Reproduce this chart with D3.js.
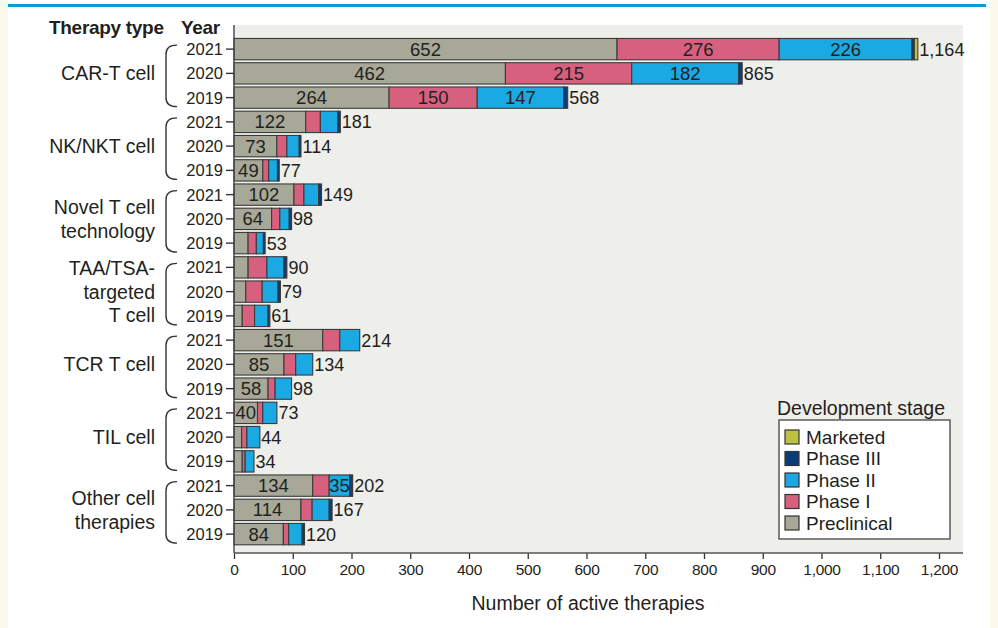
<!DOCTYPE html>
<html>
<head>
<meta charset="utf-8">
<script src="https://cdn.jsdelivr.net/npm/d3@7/dist/d3.min.js"></script>
<style>
  html, body { margin: 0; padding: 0; background: #fdf8ec; }
  svg { display: block; }
  text { font-family: "Liberation Sans", Arial, sans-serif; fill: #231f20; }
</style>
</head>
<body>
<svg id="chart" width="998" height="628"></svg>
<script>
// Therapy types (line breaks mark wrapped labels) and years within each type
const groups = ["CAR-T cell", "NK/NKT cell", "Novel T cell\ntechnology", "TAA/TSA-\ntargeted\nT cell", "TCR T cell", "TIL cell", "Other cell\ntherapies"];
const years = ["2021", "2020", "2019"];

// Active therapies per stage, ordered group by group, 2021 → 2019
const preclinical = [652, 462, 264, 122, 73, 49, 102, 64, 24, 24, 20, 14, 151, 85, 58, 40, 13, 14, 134, 114, 84];
const phaseI      = [276, 215, 150, 25, 17, 10, 17, 14, 14, 32, 28, 21, 29, 20, 12, 9, 9, 5, 28, 19, 9];
const phaseII     = [226, 182, 147, 30, 21, 15, 25, 16, 12, 29, 27, 23, 34, 29, 28, 24, 22, 15, 35, 29, 23];
const phaseIII    = [4, 6, 7, 4, 3, 3, 5, 4, 3, 5, 4, 3, 0, 0, 0, 0, 0, 0, 4, 5, 4];
const marketed    = [6, 0, 0, 0, 0, 0, 0, 0, 0, 0, 0, 0, 0, 0, 0, 0, 0, 0, 1, 0, 0];

const stages = ["Preclinical", "Phase I", "Phase II", "Phase III", "Marketed"];
const stageColors = ["#a7a897", "#d8607f", "#1aa9e2", "#0c3c76", "#bec244"];
const xTicks = [0, 100, 200, 300, 400, 500, 600, 700, 800, 900, 1000, 1100, 1200];

const rows = [];
groups.forEach((g, gi) => years.forEach((y, yi) => {
  const i = gi * 3 + yi;
  rows.push({
    key: gi + "-" + y, group: gi, year: y,
    "Preclinical": preclinical[i], "Phase I": phaseI[i], "Phase II": phaseII[i],
    "Phase III": phaseIII[i], "Marketed": marketed[i]
  });
}));
rows.forEach(r => r.total = d3.sum(stages, s => r[s]));

const svg = d3.select("#chart");

// page frame: white panel with a blue rule along the top
svg.append("rect").attr("x", 8).attr("y", 0).attr("width", 982).attr("height", 628).attr("fill", "#ffffff");
svg.append("rect").attr("x", 8).attr("y", 4).attr("width", 978).attr("height", 3).attr("fill", "#0a9ad9");

const plot = { left: 234, right: 963, top: 25, bottom: 553 };

const x = d3.scaleLinear().domain([0, 1200]).range([234, 939]);
const y = d3.scaleBand().domain(rows.map(r => r.key)).range([37, 546.25]).paddingInner(0.12).paddingOuter(0.06);

// plot background
svg.append("rect")
  .attr("x", plot.left).attr("y", plot.top)
  .attr("width", plot.right - plot.left).attr("height", plot.bottom - plot.top)
  .attr("fill", "#eeeeea");

// stacked bars
const series = d3.stack().keys(stages)(rows);
const barG = svg.append("g");
series.forEach((s, si) => {
  barG.append("g")
    .selectAll("rect")
    .data(s.filter(d => d[1] > d[0]))
    .join("rect")
    .attr("x", d => x(d[0]))
    .attr("y", d => y(d.data.key))
    .attr("width", d => x(d[1]) - x(d[0]))
    .attr("height", y.bandwidth())
    .attr("fill", stageColors[si])
    .attr("stroke", "#3b3b3b")
    .attr("stroke-width", 1.1);
});

// values printed inside segments
const labelG = svg.append("g").attr("font-size", 18.5).attr("text-anchor", "middle");
series.forEach((s, si) => {
  const minVal = si === 0 ? 30 : 35;
  labelG.selectAll(null)
    .data(s.filter(d => d[1] - d[0] >= minVal && si < 3))
    .join("text")
    .attr("x", d => (x(d[0]) + x(d[1])) / 2)
    .attr("y", d => y(d.data.key) + y.bandwidth() / 2 + 6.5)
    .text(d => d[1] - d[0]);
});

// totals at bar ends
svg.append("g").attr("font-size", 18)
  .selectAll("text")
  .data(rows)
  .join("text")
  .attr("x", d => x(d.total) + 1.5)
  .attr("y", d => y(d.key) + y.bandwidth() / 2 + 6.5)
  .text(d => d3.format(",")(d.total));

// y axis line with year ticks
svg.append("line")
  .attr("x1", plot.left).attr("x2", plot.left)
  .attr("y1", plot.top).attr("y2", plot.bottom)
  .attr("stroke", "#444").attr("stroke-width", 1.4);
const yearG = svg.append("g");
yearG.selectAll("line").data(rows).join("line")
  .attr("x1", 226).attr("x2", plot.left)
  .attr("y1", d => y(d.key) + y.bandwidth() / 2)
  .attr("y2", d => y(d.key) + y.bandwidth() / 2)
  .attr("stroke", "#333").attr("stroke-width", 1.4);
yearG.selectAll("text").data(rows).join("text")
  .attr("x", 223).attr("text-anchor", "end").attr("font-size", 16.5)
  .attr("y", d => y(d.key) + y.bandwidth() / 2 + 6)
  .text(d => d.year);

// group brackets and labels
const grpG = svg.append("g");
groups.forEach((g, gi) => {
  const c1 = y(gi + "-2021") + y.bandwidth() / 2;
  const c3 = y(gi + "-2019") + y.bandwidth() / 2;
  const top = c1 - 4, bot = c3 + 9, bx = 166, ex = 177;
  grpG.append("path")
    .attr("d", `M${ex},${top} Q${bx},${top} ${bx},${top + 9} L${bx},${bot - 9} Q${bx},${bot} ${ex},${bot}`)
    .attr("fill", "none").attr("stroke", "#333").attr("stroke-width", 1.4);
  const lines = g.split("\n");
  const mid = (c1 + c3) / 2;
  const lh = 23.5;
  lines.forEach((t, li) => {
    grpG.append("text")
      .attr("x", 155).attr("text-anchor", "end").attr("font-size", 19.5)
      .attr("y", mid + (li - (lines.length - 1) / 2) * lh + 7)
      .text(t);
  });
});

// column headings
svg.append("text").attr("x", 49).attr("y", 34).attr("font-size", 19).attr("font-weight", 700).attr("letter-spacing", -0.3).text("Therapy type");
svg.append("text").attr("x", 181).attr("y", 34).attr("font-size", 19).attr("font-weight", 700).attr("letter-spacing", -0.3).text("Year");

// x axis
const xAxis = d3.axisBottom(x).tickValues(xTicks).tickSize(6).tickSizeOuter(0).tickFormat(d3.format(","));
const xg = svg.append("g").attr("transform", `translate(0,${plot.bottom})`).call(xAxis);
xg.select(".domain").remove();
xg.append("line").attr("x1", plot.left).attr("x2", plot.right).attr("y1", 0).attr("y2", 0)
  .attr("stroke", "#555").attr("stroke-width", 1.5);
xg.selectAll(".tick line").attr("stroke", "#333").attr("stroke-width", 1.3);
xg.selectAll(".tick text").attr("font-size", 15.5).attr("font-family", "'Liberation Sans', Arial, sans-serif")
  .attr("fill", "#231f20").attr("letter-spacing", -0.3).attr("dy", "0.85em");

svg.append("text").attr("x", 588).attr("y", 610).attr("text-anchor", "middle").attr("font-size", 19.5)
  .text("Number of active therapies");

// legend
const lg = svg.append("g");
lg.append("text").attr("x", 777).attr("y", 415).attr("font-size", 19.5).text("Development stage");
lg.append("rect").attr("x", 779).attr("y", 420).attr("width", 171).attr("height", 119)
  .attr("fill", "#ffffff").attr("stroke", "#444").attr("stroke-width", 1.3);
const legendOrder = [4, 3, 2, 1, 0];
legendOrder.forEach((si, k) => {
  const cy = 437 + k * 21.5;
  lg.append("rect").attr("x", 785).attr("y", cy - 7).attr("width", 14).attr("height", 14)
    .attr("fill", stageColors[si]).attr("stroke", "#333").attr("stroke-width", 1.2);
  lg.append("text").attr("x", 806).attr("y", cy + 6.5).attr("font-size", 19).text(stages[si]);
});
</script>
</body>
</html>
